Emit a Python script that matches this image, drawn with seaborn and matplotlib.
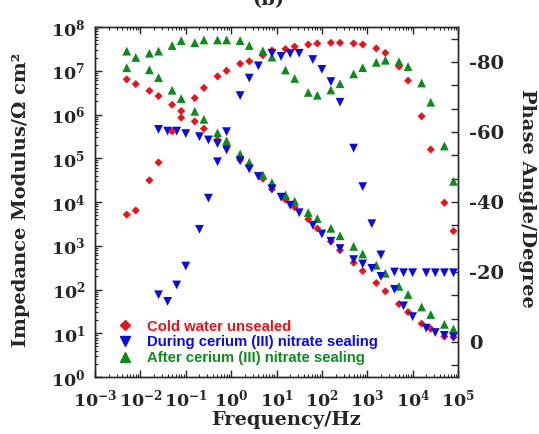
import numpy as np
import pandas as pd
import seaborn as sns
import matplotlib.pyplot as plt
from matplotlib.lines import Line2D
from matplotlib.ticker import MultipleLocator, FixedLocator, LogLocator, NullFormatter

# ── data (modulus in Ohm cm2, phase in degrees) ─────────────────────────────
labels = ["Cold water unsealed",
          "During cerium (III) nitrate sealing",
          "After cerium (III) nitrate sealing"]
colors = ["#e3161b", "#0b0bdc", "#0f8a1f"]

# cold-water and after-sealing samples share one sweep, the "during" one another
freq_a = [0.005, 0.0079, 0.0158, 0.0251, 0.05, 0.0794, 0.158, 0.251, 0.501, 0.794,
          1.58, 2.51, 5.01, 7.94, 15.8, 25.1, 50.1, 79.4, 158, 251,
          501, 794, 1580, 2510, 5010, 7940, 15800, 25100, 50100, 79400]
freq_b = [0.0251, 0.0398, 0.0631, 0.1, 0.2, 0.316, 0.501, 0.794, 1.58, 2.51,
          3.98, 7.94, 12.6, 20.0, 31.6, 63.1, 100, 158, 251, 501,
          794, 1260, 2000, 3980, 6310, 10000, 20000, 31600, 50100, 79400]

z_cold = [6.35e6, 4.97e6, 3.48e6, 2.64e6, 1.67e6, 1.20e6, 6.95e5, 4.75e5, 2.64e5, 1.82e5,
          9.2e4, 6.7e4, 3.41e4, 1.96e4, 1.13e4, 7.6e3, 4.04e3, 2.48e3, 1.25e3, 789,
          408, 265, 141, 91, 46.6, 30.5, 16.6, 12.7, 8.4, 8.1]
z_during = [4.56e5, 4.17e5, 4.17e5, 3.66e5, 3.12e5, 2.62e5, 2.16e5, 1.55e5, 8.8e4, 5.7e4,
            3.84e4, 2.01e4, 1.29e4, 8.45e3, 5.69e3, 2.94e3, 1.86e3, 1.27e3, 863, 483,
            384, 305, 200, 101, 42.4, 24.0, 13.1, 10.4, 8.95, 8.28]
z_after = [1.17e7, np.nan, 1.05e7, 6.98e6, 3.58e6, 2.31e6, 1.18e6, 7.76e5, 3.81e5, 2.50e5,
           1.25e5, 8.09e4, 4.15e4, 2.77e4, 1.45e4, 1.04e4, 5.75e3, 4.19e3, 2.51e3, 1.69e3,
           964, 649, 358, 235, 118, 76.9, 39.8, 26.8, 16.0, 12.5]

ph_cold = [-36.4, -37.6, -46.2, -51.3, -60.2, -64.1, -69.7, -72.6, -75.9, -77.5,
           -79.5, -80.2, -81.9, -83.3, -83.7, -84.4, -85.0, -85.3, -85.5, -85.5,
           -85.3, -85.0, -83.9, -82.6, -78.7, -74.7, -64.5, -55.0, -39.8, -31.7]
ph_during = [-13.5, -11.6, -16.3, -21.7, -32.2, -41.1, -51.5, -60.1, -70.4, -75.4,
             -78.9, -82.5, -81.6, -82.4, -82.5, -80.7, -77.9, -74.4, -68.5, -55.4,
             -44.4, -33.8, -24.9, -20.0, -19.8, -19.8, -19.8, -19.8, -19.8, -19.8]
ph_after = [-83.1, -81.3, -82.5, -83.1, -84.7, -86.1, -85.5, -86.3, -86.3, -86.3,
            -86.1, -84.7, -83.2, -81.4, -77.7, -75.3, -71.3, -70.5, -72.0, -73.8,
            -76.6, -78.4, -79.9, -80.5, -80.1, -78.7, -74.0, -68.5, -56.0, -45.9]


def _frame(freq, vals, label):
    return pd.DataFrame({"freq": freq, "value": vals, "sample": label})


# draw order: red, green, blue on top
modulus = pd.concat([_frame(freq_a, z_cold, labels[0]),
                     _frame(freq_a, z_after, labels[2]),
                     _frame(freq_b, z_during, labels[1])], ignore_index=True)
phase = pd.concat([_frame(freq_a, ph_cold, labels[0]),
                   _frame(freq_a, ph_after, labels[2]),
                   _frame(freq_b, ph_during, labels[1])], ignore_index=True)

palette = dict(zip(labels, colors))
markers = dict(zip(labels, ["D", "v", "^"]))
sizes = dict(zip(labels, [17, 40, 40]))

# ── style ──────────────────────────────────────────────────────────────────
sns.set_style("ticks")
plt.rcParams["font.family"] = ["DejaVu Serif"]
plt.rcParams["font.weight"] = "bold"
plt.rcParams["axes.labelweight"] = "bold"
plt.rcParams["axes.unicode_minus"] = False
plt.rcParams["mathtext.fontset"] = "custom"
plt.rcParams["mathtext.rm"] = "DejaVu Serif:bold"
plt.rcParams["mathtext.bf"] = "DejaVu Serif:bold"
plt.rcParams["axes.linewidth"] = 1.0

fig = plt.figure(figsize=(5.39, 4.34), dpi=100)
ax = fig.add_axes([0.1763, 0.1313, 0.6734, 0.8065])
ax2 = ax.twinx()

sns.scatterplot(data=modulus, x="freq", y="value", hue="sample", style="sample",
                size="sample", palette=palette, markers=markers, sizes=sizes,
                linewidth=0, legend=False, ax=ax)
sns.scatterplot(data=phase, x="freq", y="value", hue="sample", style="sample",
                size="sample", palette=palette, markers=markers, sizes=sizes,
                linewidth=0, legend=False, ax=ax2)

ax.set_xscale("log")
ax.set_yscale("log")
ax.set_xlim(1e-3, 1e5)
ax.set_ylim(1, 1e8)
for axis in (ax.xaxis, ax.yaxis):
    axis.set_major_locator(LogLocator(base=10, numticks=20))
    axis.set_minor_locator(LogLocator(base=10, subs=np.arange(2, 10), numticks=200))
    axis.set_minor_formatter(NullFormatter())
ax2.set_ylim(10, -90)
ax2.yaxis.set_major_locator(FixedLocator([0, -20, -40, -60, -80]))
ax2.yaxis.set_minor_locator(MultipleLocator(20 / 3))

ax.tick_params(which="both", direction="in", top=True, right=False, labelsize=12.5)
ax.tick_params(which="major", length=5, width=1.0)
ax.tick_params(which="minor", length=2.5, width=0.8)
ax.tick_params(axis="y", pad=7)
ax.tick_params(axis="x", pad=8)
ax2.tick_params(which="both", direction="in", labelsize=14, pad=8)
ax2.tick_params(which="major", length=5, width=1.0)
ax2.tick_params(which="minor", length=5, width=1.0)

ax.set_xlabel("Frequency/Hz", fontsize=14)
ax.set_ylabel("Impedance Modulus/Ω cm²", fontsize=14)
ax2.set_ylabel("Phase Angle/Degree", fontsize=14, rotation=270, va="bottom")
ax.xaxis.set_label_coords(0.525, -0.097)
ax.yaxis.set_label_coords(-0.178, 0.506)
ax2.yaxis.set_label_coords(1.165, 0.509)

fig.text(0.497, 1.0, "(b)", ha="center", va="center", fontsize=14)

# ── legend with coloured labels ────────────────────────────────────────────
handles = [Line2D([], [], linestyle="", marker=markers[l], color=palette[l],
                  markersize=5.5 if markers[l] == "D" else 7) for l in labels]
ax2.legend(handles, labels, loc="lower left", bbox_to_anchor=(0.062, 0.034),
           frameon=False, borderpad=0, borderaxespad=0, handlelength=1.0,
           handletextpad=1.0, labelspacing=0.12, labelcolor=colors,
           prop={"family": "Liberation Sans", "weight": "bold", "size": 10.7})

fig.savefig("out.png", dpi=100)
